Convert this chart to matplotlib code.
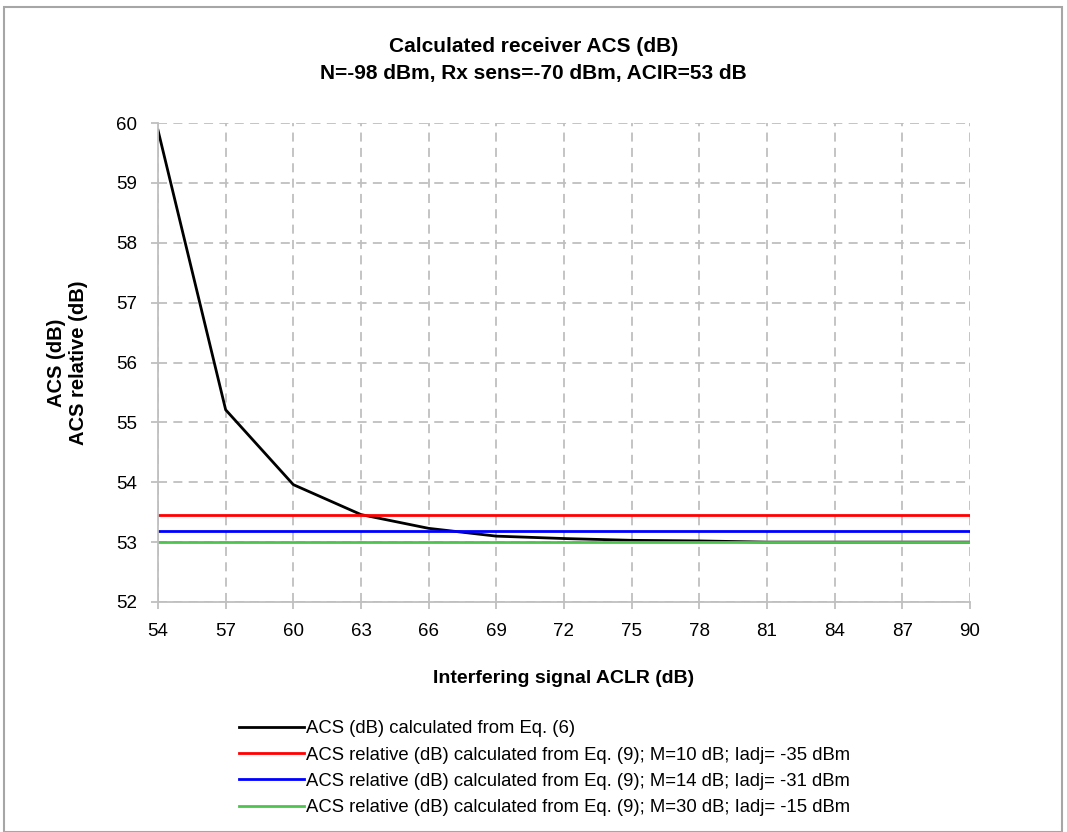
import matplotlib
matplotlib.use("Agg")
import matplotlib.pyplot as plt
from matplotlib.patches import Rectangle

plt.rcParams['font.family'] = ['Liberation Sans', 'DejaVu Sans']

aclr = [54, 57, 60, 63, 66, 69, 72, 75, 78, 81, 84, 87, 90]
acs = [59.88, 55.21, 53.96, 53.46, 53.23, 53.10, 53.06, 53.03, 53.02, 53.0, 53.0, 53.0, 53.0]
rel_red = 53.46
rel_blue = 53.19
rel_green = 53.0

labels = [
    "ACS (dB) calculated from Eq. (6)",
    "ACS relative (dB) calculated from Eq. (9); M=10 dB; Iadj= -35 dBm",
    "ACS relative (dB) calculated from Eq. (9); M=14 dB; Iadj= -31 dBm",
    "ACS relative (dB) calculated from Eq. (9); M=30 dB; Iadj= -15 dBm",
]

fig = plt.figure(figsize=(10.67, 8.32), dpi=100)
ax = fig.add_axes([158/1067, 1-602/832, (970-158)/1067, (602-123)/832])

ax.plot(aclr, acs, color='black', lw=2, label=labels[0])
ax.plot([aclr[0], aclr[-1]], [rel_red]*2, color='#ff0000', lw=2, label=labels[1])
ax.plot([aclr[0], aclr[-1]], [rel_blue]*2, color='#0000ff', lw=2, label=labels[2])
ax.plot([aclr[0], aclr[-1]], [rel_green]*2, color='#4ec44e', lw=2, label=labels[3])

ax.set_xlim(54, 90)
ax.set_ylim(52, 60)
ax.set_xticks(range(54, 91, 3))
ax.set_yticks(range(52, 61))
ax.grid(True, color='#bfbfbf', linestyle=(0, (5, 3.5)), lw=1.3)
ax.set_axisbelow(True)
for s in ['top', 'right']:
    ax.spines[s].set_visible(False)
for s in ['left', 'bottom']:
    ax.spines[s].set_color('#bfbfbf')
    ax.spines[s].set_linewidth(1.3)
ax.tick_params(axis='both', colors='#bfbfbf', labelcolor='#000000', labelsize=13.5, length=5, width=1.3)
ax.tick_params(axis='x', pad=10)
ax.tick_params(axis='y', pad=10)

ax.set_xlabel("Interfering signal ACLR (dB)", fontsize=14, fontweight='bold', labelpad=22)
ax.set_ylabel("ACS (dB)\nACS relative (dB)", fontsize=14.5, fontweight='bold', labelpad=20)

fig.text(0.5, 1-47/832, "Calculated receiver ACS (dB)", ha='center', va='center', fontsize=15, fontweight='bold')
fig.text(0.5, 1-73/832, "N=-98 dBm, Rx sens=-70 dBm, ACIR=53 dB", ha='center', va='center', fontsize=15, fontweight='bold')

fig.legend(loc='upper left', bbox_to_anchor=(232/1067, 1-713/832), frameon=False,
           fontsize=13.3, handlelength=3.5, handletextpad=0.1, labelspacing=0.5, borderaxespad=0)

fig.patches.append(Rectangle((4/1067, 0), (1062-4)/1067, 1-7/832, transform=fig.transFigure,
                             fill=False, edgecolor='#a6a6a6', lw=1.5))

fig.savefig("out.png", dpi=100)
